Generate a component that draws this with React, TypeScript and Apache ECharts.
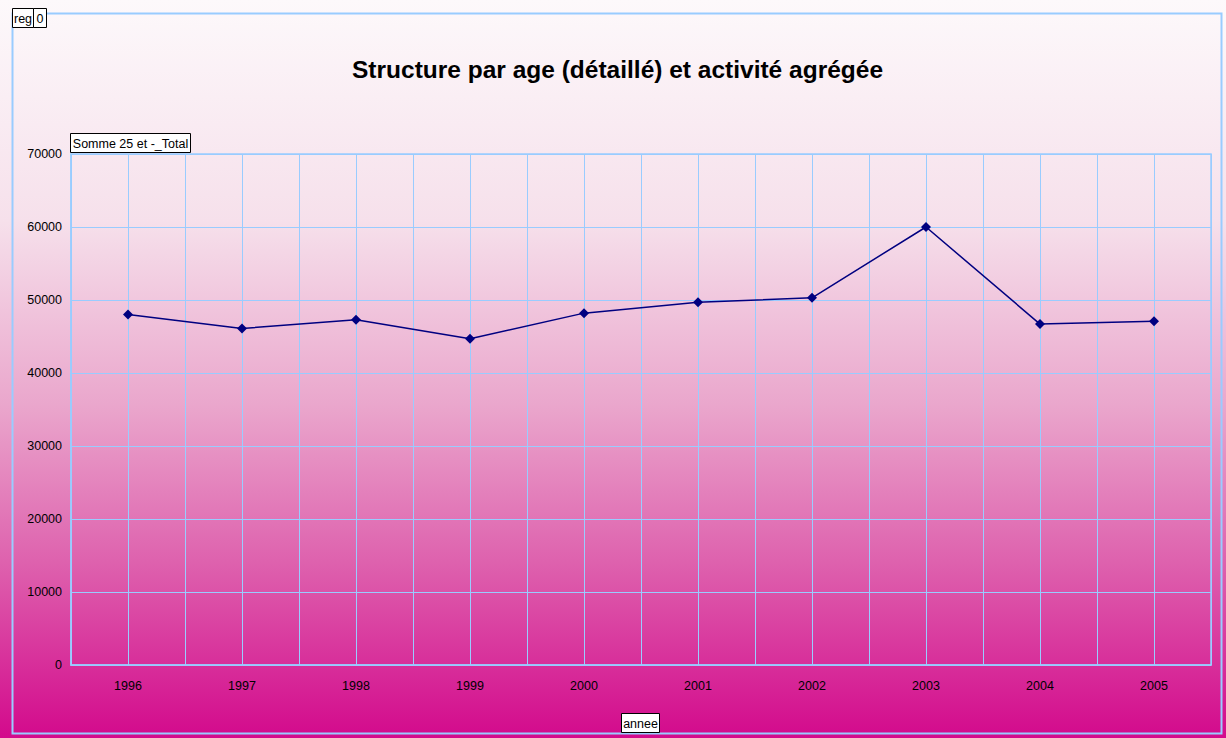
import React, { useEffect, useRef } from "react";
import * as echarts from "echarts";

const categories = ["1996", "1997", "1998", "1999", "2000", "2001", "2002", "2003", "2004", "2005"];
const values = [48000, 46100, 47300, 44700, 48200, 49700, 50300, 60000, 46700, 47100];
const yTicks = { min: 0, max: 70000, interval: 10000 };
const title = "Structure par age (détaillé) et activité agrégée";
const seriesName = "Somme 25 et -_Total";
const xName = "annee";

export default function App() {
  const ref = useRef<HTMLDivElement>(null);
  useEffect(() => {
    document.body.style.margin = "0";
    const chart = echarts.init(ref.current!, null, { renderer: "svg" });
    const gridColor = "#99ccff";
    const font = "'Liberation Sans', Arial, sans-serif";
    const labelBox = (text: string, x: number, y: number, w: number) => ({
      type: "group",
      x,
      y,
      children: [
        { type: "rect", shape: { x: 0, y: 0, width: w, height: 19 }, style: { fill: "#ffffff", stroke: "#000000", lineWidth: 1 } },
        { type: "text", x: w / 2, y: 10, style: { text, fill: "#000", font: `12.5px ${font}`, align: "center", verticalAlign: "middle" } },
      ],
    });
    chart.setOption({
      animation: false,
      backgroundColor: {
        type: "linear",
        x: 0, y: 0, x2: 0, y2: 1,
        colorStops: [
          { offset: 0, color: "#fdf9fb" },
          { offset: 0.3, color: "#f6e0eb" },
          { offset: 0.55, color: "#eaa6cc" },
          { offset: 0.76, color: "#de62ae" },
          { offset: 1, color: "#d30a8c" },
        ],
      },
      title: {
        text: title,
        left: 347,
        top: 52,
        textStyle: { fontFamily: font, fontSize: 24.5, fontWeight: "bold", color: "#000" },
      },
      grid: { left: 71, right: 15, top: 154, bottom: 73, show: true, borderColor: gridColor, borderWidth: 1.5, backgroundColor: "transparent" },
      xAxis: [
        {
          type: "category",
          data: categories,
          boundaryGap: true,
          axisLine: { show: true, lineStyle: { color: gridColor, width: 1.5 } },
          axisTick: { show: false },
          splitLine: { show: true, interval: 0, lineStyle: { color: gridColor, width: 1 } },
          axisLabel: { color: "#000", fontSize: 12.5, fontFamily: font, margin: 14, interval: 0 },
        },
        {
          type: "value",
          min: 0,
          max: categories.length * 2,
          interval: 1,
          position: "bottom",
          axisLine: { show: false },
          axisTick: { show: false },
          axisLabel: { show: false },
          splitLine: { show: true, lineStyle: { color: gridColor, width: 1 } },
        },
      ],
      yAxis: {
        type: "value",
        min: yTicks.min,
        max: yTicks.max,
        interval: yTicks.interval,
        axisLine: { show: true, lineStyle: { color: gridColor, width: 1.5 } },
        axisTick: { show: false },
        splitLine: { show: true, lineStyle: { color: gridColor, width: 1 } },
        axisLabel: { color: "#000", fontSize: 12.5, fontFamily: font, margin: 9, formatter: (v: number) => String(v) },
      },
      series: [
        {
          name: seriesName,
          type: "line",
          xAxisIndex: 0,
          data: values,
          symbol: "diamond",
          symbolSize: 10,
          itemStyle: { color: "#000080" },
          lineStyle: { color: "#000080", width: 1.5 },
        },
      ],
      graphic: [
        { type: "rect", shape: { x: 12.5, y: 13.5, width: 1209, height: 720 }, style: { fill: "none", stroke: gridColor, lineWidth: 2 }, silent: true },
        labelBox("reg", 12.5, 8.5, 21),
        labelBox("0", 33.5, 8.5, 13),
        labelBox(seriesName, 70.5, 133.5, 120),
        labelBox(xName, 621.5, 713.5, 38),
      ],
    });
    return () => chart.dispose();
  }, []);
  return <div ref={ref} style={{ width: 1226, height: 738 }} />;
}
